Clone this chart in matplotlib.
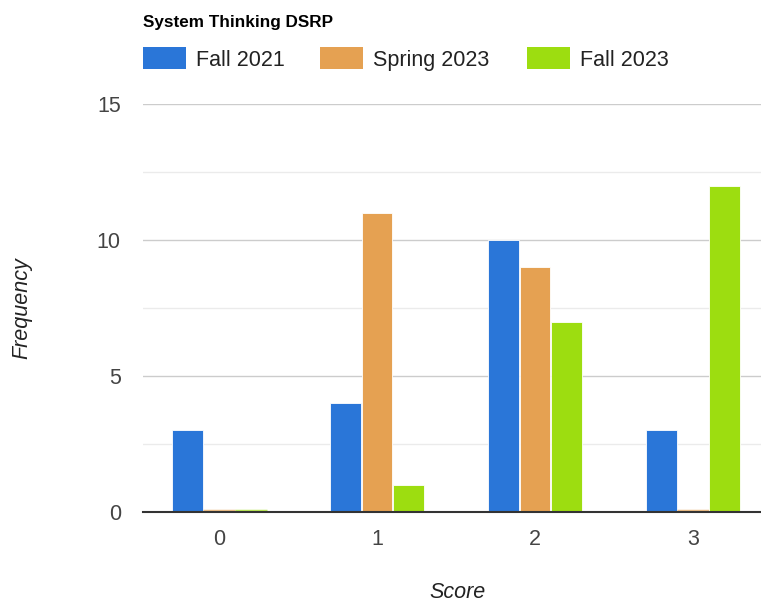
import numpy as np
import matplotlib.pyplot as plt
from matplotlib.patches import Rectangle

plt.rcParams['font.family'] = ['Liberation Sans', 'DejaVu Sans']

scores = [0, 1, 2, 3]
series = ['Fall 2021', 'Spring 2023', 'Fall 2023']
fall_2021 = [3, 4, 10, 3]
spring_2023 = [0, 11, 9, 0]
fall_2023 = [0, 1, 7, 12]
colors = ['#2a76d8', '#e5a152', '#9ddd10']

W, H = 761, 601
fig = plt.figure(figsize=(W / 100, H / 100), dpi=100)
ax = fig.add_axes([143/W, 1 - 512/H, 618/W, 408/H])

x = np.arange(len(scores))
w = 0.2
for i, (vals, c) in enumerate(zip([fall_2021, spring_2023, fall_2023], colors)):
    pos = x + (i - 1) * w
    ax.bar(pos, vals, width=w * 0.97, color=c, edgecolor='#ffffff', linewidth=0.6, zorder=3)
    # zero values show as a thin coloured line on the baseline
    for p, v in zip(pos, vals):
        if v == 0:
            ax.hlines(0.04, p - w / 2, p + w / 2, colors=c, linewidth=2.5, alpha=0.7, zorder=3)

ax.set_xlim(-0.482, -0.482 + 618 / 158)
ax.set_ylim(0, 15)
ax.set_yticks([0, 5, 10, 15])
ax.set_yticks([2.5, 7.5, 12.5], minor=True)
ax.set_xticks(x)
ax.set_xticklabels([str(s) for s in scores])
ax.grid(axis='y', which='major', color='#cccccc', linewidth=1, zorder=0)
ax.grid(axis='y', which='minor', color='#ebebeb', linewidth=1, zorder=0)
for s in ['top', 'right', 'left']:
    ax.spines[s].set_visible(False)
ax.spines['bottom'].set_color('#333333')
ax.spines['bottom'].set_linewidth(1.5)
ax.spines['bottom'].set_zorder(4)
ax.tick_params(axis='both', which='both', length=0, labelsize=15.5, labelcolor='#444444')
ax.tick_params(axis='y', pad=16)
ax.tick_params(axis='x', pad=12)

fig.text(22/W, 1 - 308/H, 'Frequency', fontsize=15.5, style='italic', color='#222222',
         rotation=90, ha='center', va='center')
fig.text(458/W, 1 - 592/H, 'Score', fontsize=15.5, style='italic', color='#222222',
         ha='center', va='center')

fig.text(143/W, 1 - 22/H, 'System Thinking DSRP', fontsize=12.3, fontweight='bold',
         va='center', ha='left', color='#000000')

# legend drawn by hand so it sits where the reference puts it
for c, lab, px in zip(colors, series, [143, 320, 527]):
    fig.patches.append(Rectangle((px/W, 1 - 69/H), 43/W, 22/H, facecolor=c,
                                 edgecolor='none', transform=fig.transFigure))
    fig.text((px + 53)/W, 1 - 58/H, lab, fontsize=15.5, color='#222222',
             ha='left', va='center_baseline')

fig.savefig('out.png', dpi=100)
